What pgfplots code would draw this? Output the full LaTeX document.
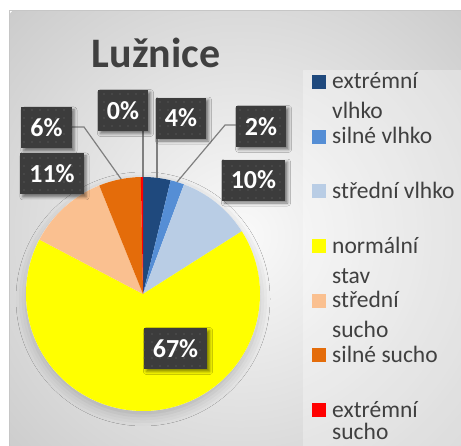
\documentclass[border=0pt]{standalone}
\usepackage{pgfplots}
\pgfplotsset{compat=1.18}
\usepackage{fontspec}
\setmainfont{Carlito}
\usetikzlibrary{shadows.blur, patterns.meta}
\definecolor{c1}{HTML}{1F497D}
\definecolor{c2}{HTML}{558ED5}
\definecolor{c3}{HTML}{B9CDE5}
\definecolor{c4}{HTML}{FFFF00}
\definecolor{c5}{HTML}{FAC090}
\definecolor{c6}{HTML}{E46C0A}
\definecolor{c7}{HTML}{FF0000}
\definecolor{txt}{HTML}{404040}
\definecolor{lblfill}{HTML}{3C3C3C}
\definecolor{dotc}{HTML}{535353}
\definecolor{leader}{HTML}{7F7F7F}
\begin{document}
\begin{tikzpicture}[x=1bp,y=1bp,
  labelbox/.style={fill=lblfill, text=white, font=\fontsize{26bp}{30bp}\selectfont\bfseries,
    inner xsep=9bp, inner ysep=0bp, minimum height=41bp,
    blur shadow={shadow xshift=2.5bp, shadow yshift=-2.5bp, shadow blur radius=3bp, shadow opacity=50},
    postaction={pattern={Dots[distance=8bp,radius=0.8bp]}, pattern color=dotc}},
  leaderline/.style={draw=leader, line width=1.2bp}]
\useasboundingbox (0,0) rectangle (461,446);
\fill[white] (0,0) rectangle (461,446);
\begin{scope}
\clip (9,0) rectangle (461,435);
\shade[inner color=gray!4, outer color=gray!40] (240,210) circle (320);
\end{scope}
\draw[gray!45, line width=1.2bp] (9.5,0) -- (9.5,435.5) -- (461,435.5);
\fill[white, opacity=0.3] (303,0) rectangle (461,376);
\node[anchor=base, inner sep=0, text=txt, font=\fontsize{42bp}{50bp}\selectfont\bfseries] at (156,378) {Lužnice};
\begin{axis}[at={(143bp,152bp)}, anchor=origin, x=117bp, y=117bp,
  xmin=-1, xmax=1, ymin=-1, ymax=1, hide axis, clip=false]
\fill[white, blur shadow={shadow xshift=0bp, shadow yshift=-5bp, shadow blur radius=10bp, shadow opacity=20}] (axis cs:0,0) circle[radius=117bp];
\def\cum{0}
\foreach \v/\c in {3.8/c1,1.9/c2,10.3/c3,66.7/c4,11.2/c5,5.8/c6,0.3/c7}{
  \pgfmathsetmacro\a{90-3.6*\cum}
  \pgfmathsetmacro\b{90-3.6*(\cum+\v)}
  \edef\temp{\noexpand\fill[\c] (axis cs:0,0) -- ++(\a:117bp) arc[start angle=\a, end angle=\b, radius=117bp] -- cycle;}
  \temp
  \pgfmathsetmacro\nc{\cum+\v}
  \xdef\cum{\nc}
}
\draw[leaderline] (axis cs:0,1.393) -- (axis cs:0,1);
\draw[leaderline] (axis cs:0.120,1.333) -- (axis cs:0.120,0.993);
\draw[leaderline] (axis cs:0.795,1.444) -- (axis cs:0.701,1.444) -- (axis cs:0.291,0.957);
\draw[leaderline] (axis cs:-0.607,1.427) -- (axis cs:-0.504,1.427) -- (axis cs:-0.187,0.982);
\node[labelbox] at (axis cs:-0.171,1.568) {0\%};
\node[labelbox] at (axis cs:0.325,1.504) {4\%};
\node[labelbox] at (axis cs:1.009,1.432) {2\%};
\node[labelbox] at (axis cs:-0.825,1.419) {6\%};
\node[labelbox] at (axis cs:-0.778,1.026) {11\%};
\node[labelbox] at (axis cs:0.944,0.974) {10\%};
\node[labelbox] at (axis cs:0.278,-0.466) {67\%};
\end{axis}
\foreach \i/\c/\la/\lb in {0/c1/extrémní/vlhko, 1/c2/silné vlhko/, 2/c3/střední vlhko/, 3/c4/normální/stav, 4/c5/střední/sucho, 5/c6/silné sucho/, 6/c7/extrémní/sucho}{
  \pgfmathsetmacro\yb{357-54.7*\i}
  \pgfmathsetmacro\yc{max(\yb-30,6)}
  \fill[\c] (312,\yb) rectangle (326,\yb+14);
  \node[anchor=base west, inner sep=0, text=txt, font=\fontsize{23.5bp}{30bp}\selectfont] at (332,\yb) {\la};
  \node[anchor=base west, inner sep=0, text=txt, font=\fontsize{23.5bp}{30bp}\selectfont] at (332,\yc) {\lb};
}
\end{tikzpicture}
\end{document}
